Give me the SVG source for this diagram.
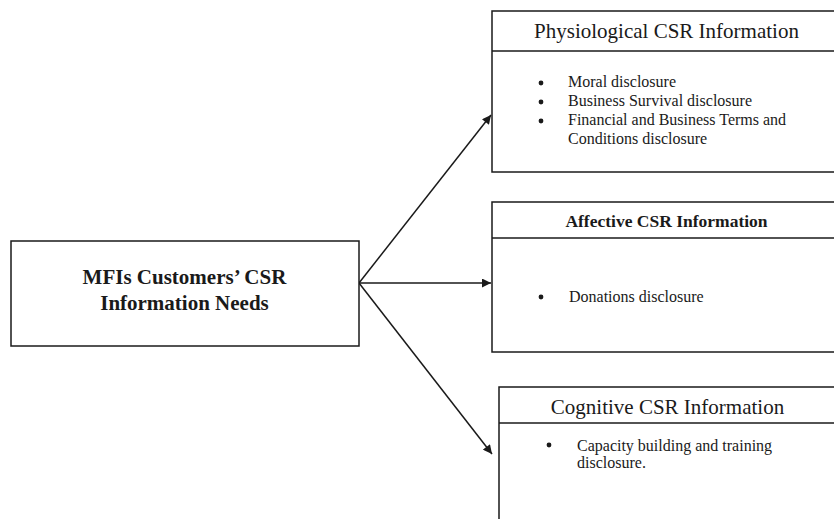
<svg xmlns="http://www.w3.org/2000/svg" width="834" height="519" viewBox="0 0 834 519">
<style>
.box{fill:#fff;stroke:#1a1a1a;stroke-width:1.5}
.ln{stroke:#1a1a1a;stroke-width:1.5;fill:none}
.t{font-family:"Liberation Serif","Times New Roman",serif;fill:#1a1a1a}
.h{font-size:21px}
.b{font-size:16px}
.bold{font-weight:bold}
.dot{fill:#1a1a1a}
</style>
<defs>
<marker id="ah" viewBox="0 0 10 10" refX="10" refY="5" markerWidth="10" markerHeight="9" markerUnits="userSpaceOnUse" orient="auto">
<path d="M0,0 L10,5 L0,10 z" fill="#1a1a1a"/>
</marker>
</defs>
<rect width="834" height="519" fill="#fff"/>
<g id="connectors">
<line class="ln" x1="359" y1="283" x2="491" y2="115" marker-end="url(#ah)"/>
<line class="ln" x1="359" y1="283" x2="491" y2="283" marker-end="url(#ah)"/>
<line class="ln" x1="359" y1="283" x2="492" y2="454" marker-end="url(#ah)"/>
</g>
<g id="source">
<rect class="box" x="11" y="241" width="348" height="105"/>
<text class="t bold" x="184.5" y="284" font-size="21" text-anchor="middle">MFIs Customers’ CSR</text>
<text class="t bold" x="184.5" y="310" font-size="21" text-anchor="middle">Information Needs</text>
</g>
<g id="physiological">
<rect class="box" x="492" y="11" width="350" height="161"/>
<line class="ln" x1="492" y1="51" x2="842" y2="51"/>
<text class="t h" x="666.5" y="38" text-anchor="middle">Physiological CSR Information</text>
<circle class="dot" cx="541" cy="83" r="2.4"/>
<circle class="dot" cx="541" cy="102" r="2.4"/>
<circle class="dot" cx="541" cy="121" r="2.4"/>
<text class="t b" x="568" y="87">Moral disclosure</text>
<text class="t b" x="568" y="106">Business Survival disclosure</text>
<text class="t b" x="568" y="125">Financial and Business Terms and</text>
<text class="t b" x="568" y="144">Conditions disclosure</text>
</g>
<g id="affective">
<rect class="box" x="492" y="202" width="350" height="150"/>
<line class="ln" x1="492" y1="238" x2="842" y2="238"/>
<text class="t bold" x="666.5" y="227" font-size="17.5" text-anchor="middle">Affective CSR Information</text>
<circle class="dot" cx="541" cy="297" r="2.4"/>
<text class="t b" x="569" y="302">Donations disclosure</text>
</g>
<g id="cognitive">
<rect class="box" x="499" y="387" width="343" height="150"/>
<line class="ln" x1="499" y1="423" x2="842" y2="423"/>
<text class="t h" x="667.5" y="414" text-anchor="middle">Cognitive CSR Information</text>
<circle class="dot" cx="549" cy="445" r="2.4"/>
<text class="t b" x="577" y="451">Capacity building and training</text>
<text class="t b" x="577" y="468">disclosure.</text>
</g>
</svg>
